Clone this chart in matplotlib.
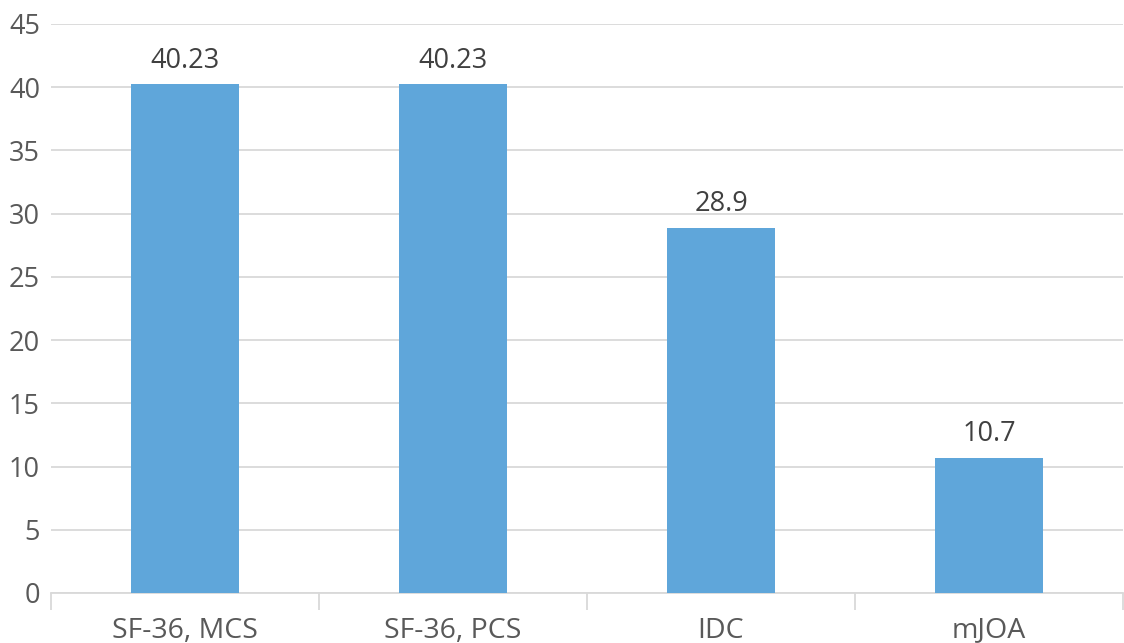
import matplotlib.pyplot as plt
import numpy as np

categories = ["SF-36, MCS", "SF-36, PCS", "IDC", "mJOA"]
values = [40.23, 40.23, 28.9, 10.7]
value_labels = ["40.23", "40.23", "28.9", "10.7"]
y_ticks = [0, 5, 10, 15, 20, 25, 30, 35, 40, 45]

bar_color = "#5fa6da"
grid_color = "#d9d9d9"
text_color = "#595959"

plt.rcParams["font.family"] = ["Open Sans", "DejaVu Sans"]

fig = plt.figure(figsize=(11.24, 6.43), dpi=100)
ax = fig.add_axes([0.0454, 0.0778, 0.9537, 0.8849])

x = np.arange(len(categories))
bars = ax.bar(x, values, width=0.4, color=bar_color, zorder=3)

for rect, lab in zip(bars, value_labels):
    ax.annotate(lab, (rect.get_x() + rect.get_width() / 2, rect.get_height()),
                xytext=(0, 7), textcoords="offset points",
                ha="center", va="bottom", fontsize=19.5, color="#404040")

ax.set_xlim(-0.5, len(categories) - 0.5)
ax.set_ylim(0, 45)
ax.set_yticks(y_ticks)
ax.yaxis.grid(True, color=grid_color, linewidth=1.3, zorder=0)
ax.tick_params(axis="y", length=0, labelsize=19.5, labelcolor=text_color, pad=8)

# category labels centred, tick marks between categories
ax.set_xticks(x)
ax.set_xticklabels(categories)
ax.tick_params(axis="x", which="major", length=0, labelsize=20.5,
               labelcolor=text_color, pad=17)
ax.set_xticks(np.arange(-0.5, len(categories)), minor=True)
ax.tick_params(axis="x", which="minor", length=12, width=1.3, color=grid_color)

for side in ["top", "right", "left"]:
    ax.spines[side].set_visible(False)
ax.spines["bottom"].set_color(grid_color)
ax.spines["bottom"].set_linewidth(1.3)

fig.savefig("out.png", dpi=100)
